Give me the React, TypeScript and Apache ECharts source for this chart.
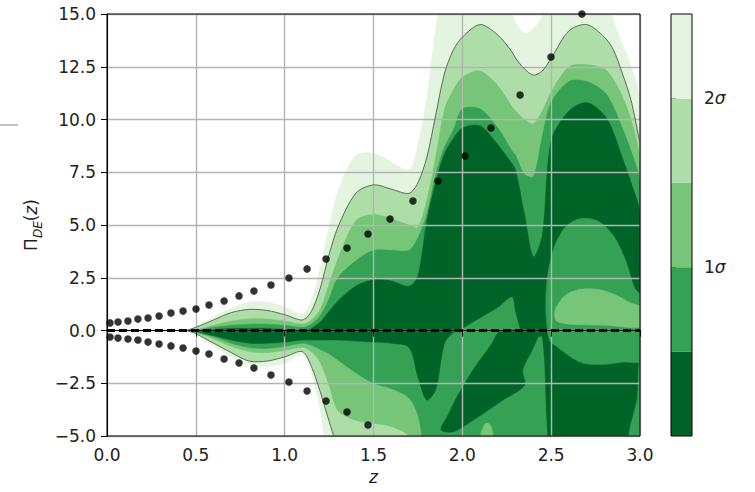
import React, { useEffect, useRef } from 'react';
import * as echarts from 'echarts';

// z grid for the contour band boundaries
const Z = [0.45, 0.5, 0.6, 0.7, 0.8, 0.9, 1.0, 1.1, 1.15, 1.2, 1.25, 1.3, 1.4, 1.5, 1.6, 1.7, 1.75, 1.8, 1.85, 1.9, 1.95, 2.0, 2.1, 2.2, 2.28, 2.3, 2.35, 2.4, 2.45, 2.5, 2.6, 2.7, 2.8, 2.85, 2.9, 2.95, 3.0];

// upper boundaries of the cumulative levels (lightest .. darkest)
const U1 = [0, 0.2, 0.65, 1.05, 1.35, 1.35, 1.1, 0.8, 1.4, 3.0, 4.9, 6.6, 8.3, 8.4, 8.0, 7.6, 8.8, 11.0, 14.3, 16, 16, 16, 16, 16, 15.0, 14.6, 14.1, 14.3, 14.9, 16, 16, 16, 16, 14.7, 13.6, 12.5, 11.0];
const U2 = [0, 0.15, 0.5, 0.85, 1.0, 0.95, 0.75, 0.5, 0.9, 2.0, 3.6, 4.9, 6.5, 6.9, 6.7, 6.5, 7.0, 8.2, 10.2, 12.2, 13.3, 13.9, 14.5, 14.0, 13.2, 12.9, 12.4, 12.1, 12.3, 12.9, 14.2, 14.5, 13.9, 13.3, 12.2, 10.9, 8.8];
const U3 = [0, 0.05, 0.25, 0.45, 0.55, 0.55, 0.45, 0.3, 0.5, 1.0, 2.2, 3.4, 5.2, 5.5, 5.3, 5.0, 4.9, 6.2, 8.2, 10.5, 11.4, 12.0, 12.3, 11.6, 10.6, 10.4, 10.0, 9.8, 10.4, 11.3, 12.5, 12.6, 12.4, 11.9, 11.1, 10.0, 8.0];
const U4 = [0, 0.02, 0.15, 0.25, 0.3, 0.3, 0.25, 0.15, 0.3, 0.7, 1.5, 2.5, 3.3, 3.8, 3.8, 3.8, 4.4, 5.5, 7.4, 8.7, 9.5, 10.5, 10.5, 9.6, 8.5, 8.3, 7.4, 7.3, 9.2, 10.8, 11.8, 11.8, 11.3, 10.6, 9.6, 8.5, 7.0];
const U5 = [0, 0, 0.05, 0.1, 0.1, 0.1, 0.05, 0, 0.1, 0.4, 0.9, 1.4, 2.1, 2.4, 2.35, 2.1, 2.6, 5.2, 7.0, 8.4, 9.1, 9.6, 9.7, 8.8, 7.9, 7.6, 5.5, 3.5, 4.5, 9.0, 10.4, 10.8, 10.2, 9.4, 8.2, 7.0, 5.5];

// lower boundaries
const D1 = [0, -0.2, -0.75, -1.25, -1.65, -1.7, -1.55, -1.15, -2.0, -3.8, -6, -6, -6, -6, -6, -6, -6, -6, -6, -6, -6, -6, -6, -6, -6, -6, -6, -6, -6, -6, -6, -6, -6, -6, -6, -6, -6];
const D2 = [0, -0.15, -0.6, -1.05, -1.45, -1.45, -1.25, -1.0, -1.7, -2.9, -4.3, -5.6, -6, -6, -6, -6, -6, -6, -6, -6, -6, -6, -6, -6, -6, -6, -6, -6, -6, -6, -6, -6, -6, -6, -6, -6, -6];
const D3 = [0, -0.1, -0.4, -0.75, -1.0, -1.05, -0.95, -0.8, -1.0, -1.5, -2.6, -3.8, -4.25, -4.4, -4.55, -5.0, -6, -6, -6, -6, -6, -6, -6, -6, -6, -6, -6, -6, -6, -6, -6, -6, -6, -6, -6, -6, -6];
const D4 = [0, -0.08, -0.3, -0.6, -0.8, -0.85, -0.75, -0.6, -0.7, -0.9, -1.1, -1.4, -2.0, -2.5, -2.75, -3.2, -4.0, -6, -6, -6, -6, -6, -6, -6, -6, -6, -6, -6, -6, -6, -6, -6, -6, -6, -6, -6, -6];
const D5 = [0, -0.05, -0.25, -0.45, -0.6, -0.6, -0.55, -0.45, -0.45, -0.45, -0.45, -0.45, -0.5, -0.55, -0.6, -0.8, -2.2, -3.3, -2.8, -0.6, -0.1, 0.1, 0.6, 1.1, 1.6, 0.9, -0.4, -0.4, -0.3, -6, -6, -6, -6, -6, -6, -6, -6];

// islands [z, y]
const DOME_L4 = [[2.49, -0.45], [2.47, 1.0], [2.48, 2.6], [2.52, 4.0], [2.58, 4.9], [2.66, 5.3], [2.76, 5.2], [2.85, 4.5], [2.92, 3.3], [2.97, 2.0], [3.02, 1.5], [3.02, -1.4], [2.9, -1.5], [2.8, -1.6], [2.68, -1.55], [2.6, -1.2], [2.53, -0.75]];
const EDGE_L4 = [[3.0, -1.4], [2.985, -3.2], [2.94, -5.2], [3.05, -5.2], [3.05, -1.4]];
const STRIPE_L5 = [[2.22, 0.0], [2.42, -0.2], [2.4, -0.8], [2.34, -1.87], [2.35, -2.6], [2.21, -3.4], [2.07, -4.2], [1.95, -4.8], [1.88, -4.7], [1.92, -4.0], [1.96, -3.3], [2.06, -1.87], [2.16, -0.7]];
const ISLAND_L3 = [[2.52, 0.9], [2.57, 1.6], [2.66, 1.95], [2.76, 1.95], [2.86, 1.7], [2.95, 1.3], [3.02, 1.05], [3.02, 0.2], [2.8, 0.25], [2.6, 0.3], [2.53, 0.45]];
const BITS_L3 = [[2.1, -5.2], [2.13, -4.4], [2.16, -4.5], [2.17, -5.2]];

// sampled points (black dots)
const UP_Z = [0.017, 0.062, 0.118, 0.174, 0.231, 0.293, 0.36, 0.428, 0.501, 0.574, 0.659, 0.743, 0.827, 0.923, 1.024, 1.126, 1.233, 1.351, 1.469, 1.593, 1.722, 1.863, 2.015, 2.161, 2.325, 2.499, 2.673];
const UP_Y = [0.36, 0.4, 0.45, 0.54, 0.59, 0.69, 0.83, 0.92, 1.02, 1.21, 1.4, 1.64, 1.87, 2.16, 2.49, 2.92, 3.39, 3.91, 4.57, 5.28, 6.14, 7.08, 8.27, 9.6, 11.16, 12.96, 15.0];
const LO_Z = [0.017, 0.062, 0.118, 0.174, 0.231, 0.293, 0.36, 0.428, 0.501, 0.574, 0.659, 0.743, 0.827, 0.923, 1.024, 1.126, 1.233, 1.351, 1.469];
const LO_Y = [-0.31, -0.36, -0.4, -0.45, -0.55, -0.64, -0.73, -0.83, -0.97, -1.11, -1.35, -1.54, -1.78, -2.11, -2.44, -2.87, -3.34, -3.86, -4.48];

const COLORS = ['#e4f5df', '#aedea7', '#76c578', '#34a155', '#006428'];
const CB_LEVELS = [0, 1, 2, 3, 4];
const CB_TICKS = [2, 4];
const CB_LABELS = ['1', '2'];

const FONT = 'DejaVu Sans';

function band(U: number[], D: number[]) {
  const top = Z.map((z, i) => [z, U[i]]);
  const bot = Z.map((z, i) => [z, D[i]]).reverse();
  return top.concat(bot);
}

const REGIONS = [
  { pts: band(U1, D1), c: 0 },
  { pts: band(U2, D2), c: 1 },
  { pts: band(U3, D3), c: 2 },
  { pts: band(U4, D4), c: 3 },
  { pts: band(U5, D5), c: 4 },
  { pts: DOME_L4, c: 3 },
  { pts: EDGE_L4, c: 3 },
  { pts: STRIPE_L5, c: 4 },
  { pts: ISLAND_L3, c: 2 },
  { pts: BITS_L3, c: 2 },
];

const CONTOUR_LINES = [
  Z.map((z, i) => [z, U2[i]]),
  Z.slice(0, 12).map((z, i) => [z, D2[i]]),
];

export default function App() {
  const ref = useRef<HTMLDivElement>(null);
  useEffect(() => {
    if (!ref.current) return;
    const chart = echarts.init(ref.current, undefined, { renderer: 'svg' });
    const axisText = { fontFamily: FONT, fontSize: 17, color: '#222' };
    chart.setOption({
      animation: false,
      backgroundColor: '#fff',
      grid: [
        { left: 107, right: 115, top: 14, bottom: 56, show: true, borderColor: '#000', borderWidth: 1, z: 4 },
        { left: 671, width: 21, top: 14, height: 422, show: true, borderColor: '#000', borderWidth: 1, z: 4 },
      ],
      xAxis: [
        {
          type: 'value', gridIndex: 0, min: 0, max: 3, interval: 0.5, z: 3,
          axisLine: { show: true, lineStyle: { color: '#000', width: 1 } },
          axisTick: { show: true, length: 6, lineStyle: { color: '#000' } },
          axisLabel: { ...axisText, margin: 10, formatter: (v: number) => v.toFixed(1) },
          splitLine: { show: true, lineStyle: { color: '#b4b4b4', width: 1.4 } },
          name: 'z', nameLocation: 'middle', nameGap: 32,
          nameTextStyle: { ...axisText, fontStyle: 'italic' },
        },
        { type: 'value', gridIndex: 1, min: 0, max: 1, show: false },
      ],
      yAxis: [
        {
          type: 'value', gridIndex: 0, min: -5, max: 15, interval: 2.5, z: 3,
          axisLine: { show: true, lineStyle: { color: '#000', width: 1 } },
          axisTick: { show: true, length: 6, lineStyle: { color: '#000' } },
          axisLabel: { ...axisText, margin: 11, formatter: (v: number) => v.toFixed(1).replace('-', '\u2212') },
          splitLine: { show: true, lineStyle: { color: '#b4b4b4', width: 1.4 } },
          name: '{a|\u03a0}{s|DE}{a|(}{i|z}{a|)}', nameLocation: 'middle', nameRotate: 90, nameGap: 58,
          nameTextStyle: {
            ...axisText,
            rich: {
              a: { fontFamily: FONT, fontSize: 17, color: '#222', lineHeight: 26, verticalAlign: 'middle' },
              i: { fontFamily: FONT, fontSize: 17, color: '#222', fontStyle: 'italic', lineHeight: 26, verticalAlign: 'middle' },
              s: { fontFamily: FONT, fontSize: 12, color: '#222', fontStyle: 'italic', lineHeight: 12, verticalAlign: 'bottom' },
            },
          },
        },
        {
          type: 'value', gridIndex: 1, min: 0, max: 5, position: 'right',
          axisLine: { show: false },
          axisTick: { show: true, length: 5, customValues: CB_TICKS, lineStyle: { color: '#000' } },
          axisLabel: {
            ...axisText, margin: 12, customValues: CB_TICKS,
            formatter: (v: number) => `{n|${CB_LABELS[CB_TICKS.indexOf(v)]}}{s|\u03c3}`,
            rich: {
              n: { fontFamily: FONT, fontSize: 17, color: '#222' },
              s: { fontFamily: FONT, fontSize: 17, color: '#222', fontStyle: 'italic' },
            },
          },
          splitLine: { show: false },
        },
      ],
      graphic: [
        { type: 'line', shape: { x1: 0, y1: 125, x2: 18, y2: 125 }, style: { stroke: '#888', lineWidth: 1 } },
      ],
      series: [
        {
          type: 'custom', coordinateSystem: 'cartesian2d', xAxisIndex: 0, yAxisIndex: 0,
          clip: true, z: 1, silent: true,
          data: REGIONS.map((_, i) => [i]),
          renderItem: (params: any, api: any) => {
            const r = REGIONS[params.dataIndex];
            return {
              type: 'polygon',
              shape: { points: r.pts.map((p) => api.coord(p)), smooth: 0.3 },
              style: { fill: COLORS[r.c], stroke: COLORS[r.c], lineWidth: 0.5 },
            };
          },
        },
        {
          type: 'custom', coordinateSystem: 'cartesian2d', xAxisIndex: 0, yAxisIndex: 0,
          clip: true, z: 4, silent: true,
          data: CONTOUR_LINES.map((_, i) => [i]),
          renderItem: (params: any, api: any) => {
            const l = CONTOUR_LINES[params.dataIndex];
            return {
              type: 'polyline',
              shape: { points: l.map((p) => api.coord(p)), smooth: 0.3 },
              style: { stroke: '#5a5a5a', lineWidth: 0.9, fill: null },
            };
          },
        },
        {
          type: 'line', xAxisIndex: 0, yAxisIndex: 0, z: 5, symbol: 'none', silent: true,
          data: [[0, 0], [3, 0]],
          lineStyle: { color: '#000', width: 2.8, type: [8, 4] },
        },
        {
          type: 'scatter', xAxisIndex: 0, yAxisIndex: 0, z: 6, symbolSize: 7.5, clip: false, silent: true,
          itemStyle: { color: '#000' },
          data: UP_Z.map((z, i) => [z, UP_Y[i]]).concat(LO_Z.map((z, i) => [z, LO_Y[i]])),
        },
        {
          type: 'custom', coordinateSystem: 'cartesian2d', xAxisIndex: 1, yAxisIndex: 1, z: 1, silent: true,
          data: CB_LEVELS.map((l) => [l]),
          renderItem: (params: any, api: any) => {
            const l = CB_LEVELS[params.dataIndex];
            const p0 = api.coord([0, l + 1]);
            const p1 = api.coord([1, l]);
            return {
              type: 'rect',
              shape: { x: p0[0], y: p0[1], width: p1[0] - p0[0], height: p1[1] - p0[1] },
              style: { fill: COLORS[4 - l] },
            };
          },
        },
      ],
    });
    return () => chart.dispose();
  }, []);
  return <div ref={ref} style={{ position: 'fixed', left: 0, top: 0, width: 755, height: 492 }} />;
}
